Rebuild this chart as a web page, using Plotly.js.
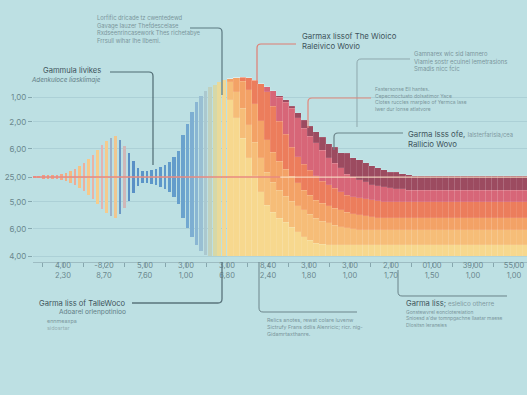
<!DOCTYPE html>
<html>
<head>
<meta charset="utf-8">
<script src="https://cdn.plot.ly/plotly-3.0.1.min.js"></script>
<style>html,body{margin:0;padding:0;background:#bde0e3;}#chart{width:527px;height:395px;}</style>
</head>
<body>
<div id="chart"></div>
<script>
// ---------------- DATA ----------------
// wave section (range bars around the centre line), left to right
const waveHigh = [3.02,3.02,3.04,3.06,3.07,3.06,3.09,3.13,3.21,3.28,3.40,3.51,3.66,3.81,4.00,4.19,4.34,4.45,4.53,4.38,4.15,3.89,3.58,3.32,3.21,3.21,3.24,3.28,3.36,3.43,3.55,3.73,3.98,4.55,5.00,5.45,5.80,6.05,6.22,6.36,6.46,6.56,6.64];
const waveLow  = [2.94,2.94,2.92,2.90,2.89,2.90,2.87,2.83,2.75,2.68,2.56,2.45,2.30,2.15,1.96,1.77,1.62,1.51,1.43,1.58,1.81,2.07,2.38,2.64,2.75,2.75,2.72,2.68,2.60,2.53,2.41,2.23,1.98,1.45,1.05,0.70,0.40,0.18,0.05,0,0,0,0];

// stacked layered section (bottom to top)
const yellowLayer = [5.89,5.21,4.45,3.70,3.02,2.42,1.92,1.66,1.43,1.28,1.09,0.91,0.72,0.60,0.49,0.45,0.42,0.42,0.42,0.42,0.42,0.42,0.42,0.42,0.42,0.42,0.42,0.42,0.42,0.42,0.42,0.42,0.42,0.42,0.42,0.42,0.42,0.42,0.42,0.42,0.42,0.42,0.42,0.42,0.42,0.42,0.42,0.42,0.42,0.42];
const amberLayer  = [0.68,0.98,1.13,1.25,1.28,1.28,1.25,1.13,1.06,0.98,0.98,0.98,1.02,0.98,0.94,0.87,0.83,0.75,0.68,0.64,0.60,0.57,0.57,0.57,0.57,0.57,0.57,0.57,0.57,0.57,0.57,0.57,0.57,0.57,0.57,0.57,0.57,0.57,0.57,0.57,0.57,0.57,0.57,0.57,0.57,0.57,0.57,0.57,0.57,0.57];
const orangeLayer = [0.11,0.53,1.02,1.32,1.44,1.40,1.21,1.13,1.09,1.02,0.94,0.87,0.75,0.72,0.68,0.68,0.64,0.64,0.64,0.60,0.57,0.57,0.53,0.49,0.45,0.45,0.45,0.45,0.45,0.45,0.45,0.45,0.45,0.45,0.45,0.45,0.45,0.45,0.45,0.45,0.45,0.45,0.45,0.45,0.45,0.45,0.45,0.45,0.45,0.45];
const coralLayer  = [0,0,0.15,0.45,0.90,1.40,1.81,1.74,1.51,1.32,1.09,0.98,0.98,0.94,0.91,0.83,0.79,0.75,0.68,0.64,0.64,0.64,0.64,0.64,0.64,0.60,0.60,0.60,0.60,0.60,0.60,0.60,0.60,0.60,0.60,0.60,0.60,0.60,0.60,0.60,0.60,0.60,0.60,0.60,0.60,0.60,0.60,0.60,0.60,0.60];
const pinkLayer   = [0,0,0,0,0,0,0.19,0.57,0.91,1.21,1.47,1.47,1.36,1.28,1.25,1.17,1.02,0.94,0.91,0.79,0.75,0.68,0.64,0.57,0.57,0.57,0.53,0.49,0.49,0.45,0.45,0.45,0.45,0.45,0.45,0.45,0.45,0.45,0.45,0.45,0.45,0.45,0.45,0.45,0.45,0.45,0.45,0.45,0.45,0.45];
const maroonLayer = [0,0,0,0,0,0,0,0,0.04,0.08,0.08,0.19,0.30,0.38,0.42,0.49,0.53,0.60,0.57,0.79,0.72,0.75,0.72,0.72,0.68,0.64,0.60,0.64,0.57,0.57,0.53,0.53,0.53,0.53,0.53,0.53,0.53,0.53,0.53,0.53,0.53,0.53,0.53,0.53,0.53,0.53,0.53,0.53,0.53,0.53];

const centerLevel = 2.98;

const yTickVals = [0, 1.02, 2.04, 2.98, 4.04, 5.06, 6.0];
const yTickText = ["4,00","6,00","5,00","25,00","6,00","2,00","1,00"];
const xTickVals = [1,2,3,4,5,6,7,8,9,10,11,12];
const xTickTop    = ["4,00","-8,20","5,00","3,00","3,00","8,40","3,00","3,00","2,00","01,00","39,00","55,00"];
const xTickBottom = ["2,30","8,70","7,60","1,00","6,80","2,40","1,80","1,00","1,70","1,50","1,00","1,00"];

// ---------------- STYLE ----------------
const waveColors = ['#ee9486','#ef9a88','#f09c86','#f0a084','#f1a585','#eea08e','#f2a888',
 '#f3ad84','#f5b982','#efaa96','#f6c285','#eeb09c','#f7c98a','#ebb3a4','#f6cd8c','#e2b3b4','#f4cb8e',
 '#9fb0c8','#f0c690','#6b97c4','#d0b7b8','#5b8fc4','#5990c6','#5a93c8','#5b94c8','#5b95c9','#5c96c9',
 '#5d97ca','#5e98ca','#5f99ca','#619bcb','#639ccb','#669fcc','#6aa2cd','#72a8d0','#7daed2','#8ab6d3',
 '#99bfd3','#abc8cf','#c0d1bf','#d6d8a8','#e9da9a','#f3d894'];
const waveWidths = waveHigh.map((_,i)=> i < 31 ? 0.065 : 0.088);
const layerColors = ['#f7d88e','#f6bd78','#f3a266','#ec7d5c','#d76678','#9c4b60'];
const BG = '#bde0e3';
const FONT = 'Inter, "Open Sans", sans-serif';

const W = 527, H = 395, L = 33, PW = 494, PH = 262;

const traces = [];
traces.push({
  type:'bar', x0:0.30, dx:0.11,
  y: waveHigh.map((h,i)=>h-waveLow[i]), base: waveLow,
  width:waveWidths, marker:{color:waveColors, line:{width:0}}, hoverinfo:'skip'
});
const layers = [yellowLayer, amberLayer, orangeLayer, coralLayer, pinkLayer, maroonLayer];
layers.forEach((arr,k)=>{
  traces.push({
    type:'bar', x0:5.08, dx:0.15, y:arr, width:0.15,
    marker:{color:layerColors[k], line:{color:'rgba(255,255,255,0.16)', width:0.6}},
    hoverinfo:'skip'
  });
});
traces.push({type:'scatter', mode:'lines', x:[0.27,6.3], y:[centerLevel,centerLevel],
  line:{color:'#e98a80', width:1.5}, hoverinfo:'skip'});
traces.push({type:'scatter', mode:'lines', x:[6.3,12.4], y:[centerLevel,centerLevel],
  line:{color:'rgba(252,228,200,0.85)', width:1.2}, hoverinfo:'skip'});

// helpers for annotation placement (pixel -> paper)
const cx = x => (x-L)/PW, cy = y => (PH-y)/PH;
const c = p => cx(p[0]).toFixed(5)+','+cy(p[1]).toFixed(5);
function elbow(pts, r){
  r = r||4;
  let d = 'M'+c(pts[0]);
  for(let i=1;i<pts.length-1;i++){
    const [x,y]=pts[i],[xa,ya]=pts[i-1],[xb,yb]=pts[i+1];
    const da=Math.hypot(x-xa,y-ya), db=Math.hypot(xb-x,yb-y);
    const p1=[x-(x-xa)/da*r, y-(y-ya)/da*r], p2=[x+(xb-x)/db*r, y+(yb-y)/db*r];
    d += ' L'+c(p1)+' Q'+c([x,y])+' '+c(p2);
  }
  d += ' L'+c(pts[pts.length-1]);
  return d;
}
function conn(pts,color,width){
  return {type:'path', xref:'paper', yref:'paper', path:elbow(pts), layer:'above',
    line:{color:color, width:width||1.2}};
}
function txt(x,y,text,size,color,anchor,yanchor){
  return {xref:'paper', yref:'paper', x:cx(x), y:cy(y), xanchor:anchor||'left',
    yanchor:yanchor||'middle', align:anchor||'left', text:text, showarrow:false,
    font:{size:size, color:color, family:FONT}, borderpad:0};
}

const DARK='#3e545c', MID='#627d85', LIGHT='#7b969c';
const shapes = [
  conn([[190,28],[222,28],[222,95]], '#5b7880', 1.2),
  conn([[110,72],[153,72],[153,165]], '#4f6a72', 1.2),
  conn([[296,44],[257,44],[257,84]], '#e07d72', 1.2),
  conn([[410,59],[357,59],[357,127]], '#8ea8ad', 1),
  conn([[371,98],[308,98],[308,128]], '#e3877b', 1.2),
  conn([[403,133],[334,133],[334,150]], '#6b8389', 1.2),
  conn([[132,303],[222,303],[222,262]], '#5a747c', 1.3),
  conn([[259,262],[259,312],[357,312]], '#6d858b', 1),
  conn([[398,270],[398,296],[507,296]], '#6a8288', 1)
];

const annotations = [
  txt(96,13,'Lorfific dricade tz cwentedewd<br>Gavage Iauzer Thefdescelase<br>Rxdseenrincasework Thes richetabye<br>Frrsull wihar Ihe Ilbemi.',5.8,LIGHT,'left','top'),

  txt(102,71,'Gammula livikes',7.6,DARK,'right'),
  txt(102,80,'<i>Adenkuloce liasklimaje</i>',6.3,MID,'right'),

  txt(301,30,'Garmax lissof The Wioico<br>Raleivico Wovio',7.8,DARK,'left','top'),

  txt(413,49,'Gamnarex wic sid lamnero<br>Vlamie sostr ecuinel lemetrasions<br>Smadis nicc fcic',5.9,LIGHT,'left','top'),

  txt(374,85,'Fastersonse Ell hantes.<br>Cepecmoctuato dolsatimor Yace<br>Clotes ruccles rnarpleo of Yermca lase<br>Iwer dur lonse atlatvore',5,LIGHT,'left','top'),

  txt(407,128,'Garma lsss ofe, <span style="font-size:5.8px;color:#7f999f">Ialsterfarisia/cea</span><br>Rallicio Wovo',7.8,DARK,'left','top'),

  txt(127,303,'Garma liss of TalleWoco',7.6,DARK,'right'),
  txt(127,312,'Adoarel orlenpotinioo',6.6,MID,'right'),
  txt(46,317,'ennmeaxpa<br><span style="color:#94adb2">sidosrtar</span>',5.4,LIGHT,'left','top'),

  txt(266,316,'Relics anotes, rewat colare luvenw<br>Sictrufy Frans ddlis Alenricic; ricr. nig-<br>Gidamrtaxthanre.',5.3,LIGHT,'left','top'),

  txt(405,303,'Garma liss; <span style="font-size:6.3px;color:#7f999f">eslelico otherre</span>',7.6,DARK),
  txt(405,308,'Gonstewvrel eonclotereiation<br>Snioesd a\'dw tomnpgachne llaatar maese<br>Dlositsn leraneies',4.9,LIGHT,'left','top')
];

const layout = {
  width:W, height:H,
  margin:{l:L, r:0, t:0, b:H-PH},
  paper_bgcolor:BG, plot_bgcolor:BG,
  barmode:'stack', bargap:0,
  showlegend:false,
  font:{family:FONT},
  xaxis:{
    range:[0.268, 12.317], tickmode:'array', tickvals:xTickVals,
    ticktext:xTickTop.map((t,i)=>t+'<br>'+xTickBottom[i]),
    ticks:'outside', ticklen:3, tickcolor:'#86a7ae', tickfont:{size:7.5, color:'#6a878d', family:FONT},
    ticklabelstandoff:-7,
    minor:{dtick:0.5, tick0:1, ticks:'outside', ticklen:4, tickcolor:'#86a7ae'},
    showline:true, linecolor:'#9dbcc2', linewidth:1,
    showgrid:false, zeroline:false, fixedrange:true
  },
  yaxis:{
    range:[-0.226, 9.66], tickmode:'array', tickvals:yTickVals, ticktext:yTickText,
    ticks:'outside', ticklen:4, tickcolor:'#86a7ae', tickfont:{size:8, color:'#6a878d', family:FONT},
    showgrid:true, gridcolor:'rgba(130,170,178,0.35)', gridwidth:0.8,
    showline:false, zeroline:false, fixedrange:true
  },
  shapes:shapes,
  annotations:annotations
};

Plotly.newPlot('chart', traces, layout, {displayModeBar:false, staticPlot:true});
</script>
</body>
</html>
